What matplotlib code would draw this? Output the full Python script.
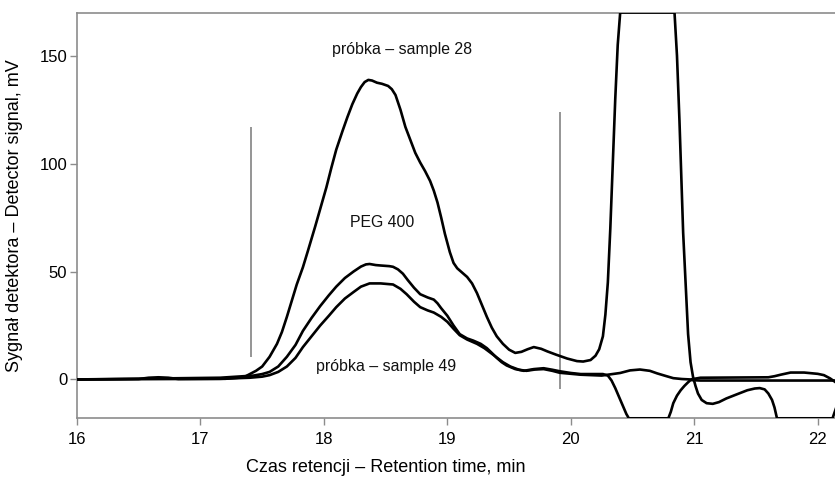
import matplotlib
matplotlib.use("Agg")
import matplotlib.pyplot as plt

plt.rcParams['font.family'] = ['Liberation Sans', 'DejaVu Sans']

# --- data (retention time, min ; detector signal, mV) ---
t_s28 = [16.00, 16.50, 16.58, 16.66, 16.74, 16.82, 17.20, 17.35, 17.40, 17.45, 17.50, 17.56,
         17.62, 17.66, 17.70, 17.74, 17.78, 17.83, 17.87, 17.93, 17.98, 18.02, 18.06, 18.10,
         18.15, 18.19, 18.23, 18.27, 18.30, 18.33, 18.36, 18.39, 18.43, 18.47, 18.52, 18.55,
         18.58, 18.62, 18.66, 18.70, 18.74, 18.78, 18.82, 18.86, 18.89, 18.92, 18.95, 18.98,
         19.02, 19.05, 19.08, 19.12, 19.16, 19.20, 19.24, 19.28, 19.32, 19.36, 19.40, 19.45,
         19.50, 19.55, 19.60, 19.65, 19.70, 19.76, 19.81, 19.88, 19.97, 20.05, 20.10, 20.16,
         20.20, 20.23, 20.26, 20.28, 20.30, 20.32, 20.34, 20.36, 20.38, 20.40, 20.84, 20.86,
         20.88, 20.91, 20.95, 20.97, 20.99, 21.01, 21.03, 21.06, 21.10, 21.15, 21.20, 21.26,
         21.34, 21.43, 21.49, 21.53, 21.57, 21.60, 21.63, 21.65, 21.67, 22.12, 22.15]
y_s28 = [0.0, 0.2, 0.8, 1.0, 0.8, 0.2, 0.3, 1.0, 2.5, 4.0, 6.0, 10.5,
         16.5, 22.0, 29.0, 36.5, 44.0, 52.0, 59.5, 71.0, 81.0, 89.0, 98.0, 106.5,
         115.0, 121.5, 127.5, 132.5, 135.5, 137.8, 138.8, 138.5, 137.5, 137.0, 136.0, 134.5,
         131.8, 125.0, 117.0, 111.0, 105.0, 100.5, 96.5, 92.0, 87.5, 82.0, 75.0, 67.5,
         59.0, 54.0, 51.5, 49.5, 47.5, 44.5, 40.0, 34.5, 29.0, 24.0, 20.0, 16.5,
         13.8, 12.3, 12.8, 14.0, 15.0, 14.2, 13.0, 11.5, 9.7, 8.5, 8.3, 9.0,
         11.0, 14.0, 20.0, 30.0, 45.0, 70.0, 100.0, 130.0, 155.0, 170.0, 170.0, 150.0,
         120.0, 68.0, 21.0, 8.0, 1.2, -3.0, -6.5, -9.5, -11.0, -11.3, -10.5, -8.8,
         -7.0, -5.0, -4.2, -4.0, -4.6, -6.5, -9.5, -13.0, -18.0, -18.0, -13.0]

t_peg = [16.00, 17.16, 17.43, 17.50, 17.56, 17.63, 17.70, 17.77, 17.83, 17.90, 17.97, 18.04,
         18.10, 18.17, 18.24, 18.30, 18.34, 18.37, 18.42, 18.46, 18.53, 18.56, 18.60, 18.64,
         18.68, 18.73, 18.78, 18.84, 18.89, 18.92, 18.95, 19.00, 19.05, 19.10, 19.16, 19.21,
         19.27, 19.32, 19.36, 19.40, 19.44, 19.48, 19.55, 19.62, 19.70, 19.78, 19.85, 19.91,
         20.00, 20.08, 20.26, 20.30, 20.33, 20.36, 20.39, 20.42, 20.45, 20.47, 20.79, 20.81,
         20.83, 20.86, 20.89, 20.92, 20.95, 20.97, 21.05, 22.15]
y_peg = [0.0, 0.8, 1.8, 2.5, 3.5, 6.0, 10.5, 16.0, 22.5, 28.5, 34.0, 39.0,
         43.0, 47.0, 50.0, 52.3, 53.3, 53.5, 53.0, 52.8, 52.5, 52.2, 51.0, 49.0,
         46.0, 42.5, 39.5, 38.0, 37.0, 35.3, 33.0, 29.5, 25.0, 21.0, 19.0, 18.0,
         16.5, 14.5, 12.3, 10.0, 8.0, 6.5, 4.8, 4.0, 4.8, 5.2, 4.5, 3.8,
         3.0, 2.5, 2.5, 1.8, -0.5, -4.0, -8.0, -12.0, -16.0, -18.0, -18.0, -15.0,
         -11.0, -7.5, -5.0, -3.0, -1.3, -0.3, -0.5, -0.5]

t_s49 = [16.00, 17.16, 17.40, 17.50, 17.56, 17.63, 17.70, 17.77, 17.83, 17.90, 17.97, 18.04,
         18.10, 18.17, 18.24, 18.30, 18.37, 18.46, 18.56, 18.62, 18.67, 18.73, 18.78, 18.84,
         18.89, 18.95, 19.00, 19.05, 19.10, 19.16, 19.24, 19.30, 19.37, 19.45, 19.51, 19.58,
         19.64, 19.71, 19.78, 19.85, 19.91, 20.08, 20.25, 20.40, 20.48, 20.56, 20.64, 20.70,
         20.77, 20.83, 20.90, 20.97, 21.05, 21.60, 21.65, 21.70, 21.78, 21.89, 22.00, 22.05,
         22.10, 22.15]
y_s49 = [0.0, 0.3, 0.8, 1.3, 2.0, 3.5, 6.0, 10.0, 15.0, 20.0, 25.0, 29.5,
         33.5, 37.5, 40.5, 43.0, 44.5, 44.5, 44.0, 42.0, 39.5, 36.0, 33.5, 32.0,
         31.0, 29.0, 26.7, 23.5, 20.5, 18.5, 16.5, 14.5, 11.5, 8.0, 6.0, 4.5,
         4.0, 4.6, 4.8, 4.0, 3.1, 2.2, 1.8, 3.0, 4.2, 4.6, 4.0, 2.8,
         1.6, 0.6, 0.2, 0.0, 0.8, 1.0, 1.5, 2.2, 3.2, 3.2, 2.6, 2.0,
         0.5, -1.5]

# integration markers (t, y_bottom, y_top)
marker_t = [17.41, 19.914]
marker_lo = [10.4, -4.3]
marker_hi = [116.8, 124.1]

x_ticks = [16, 17, 18, 19, 20, 21, 22]
y_ticks = [0, 50, 100, 150]

labels = ["próbka – sample 28", "PEG 400", "próbka – sample 49"]
label_t = [18.63, 18.47, 18.50]
label_y = [152.7, 72.5, 6.2]

# --- figure ---
fig = plt.figure(figsize=(8.35, 4.82), dpi=100)
ax = fig.add_axes([77/835, 1 - 418.3/482, (835 - 77)/835, (418.3 - 13)/482])

grey = '#8c8c8c'
for t, lo, hi in zip(marker_t, marker_lo, marker_hi):
    ax.vlines(t, lo, hi, color=grey, lw=1.3, zorder=1)

for tt, yy in [(t_s28, y_s28), (t_peg, y_peg), (t_s49, y_s49)]:
    ax.plot(tt, yy, color='black', lw=1.9, solid_joinstyle='round', zorder=3)

for s, tx, ty in zip(labels, label_t, label_y):
    ax.text(tx, ty, s, ha='center', va='center', fontsize=11.4, color='#111111')

ax.set_xlim(16, 22.14)
ax.set_ylim(-18.0, 169.8)
ax.set_xticks(x_ticks)
ax.set_yticks(y_ticks)
ax.tick_params(axis='both', direction='out', length=5, width=1, color=grey,
               labelsize=12, labelcolor='black')
ax.tick_params(axis='x', pad=5)
ax.tick_params(axis='y', pad=2)
for side in ['left', 'bottom', 'top']:
    ax.spines[side].set_color(grey)
    ax.spines[side].set_linewidth(1.2)
ax.spines['right'].set_visible(False)

ax.set_xlabel("Czas retencji – Retention time, min", fontsize=13)
ax.xaxis.set_label_coords((386 - 77) / 758, (418.3 - 468) / 405.3)
ax.xaxis.label.set_va('center')
ax.set_ylabel("Sygnał detektora – Detector signal, mV", fontsize=13)
ax.yaxis.set_label_coords((15 - 77) / 758, (418.3 - 216) / 405.3)
ax.yaxis.label.set_va('center')

fig.savefig("out.png", dpi=100)
